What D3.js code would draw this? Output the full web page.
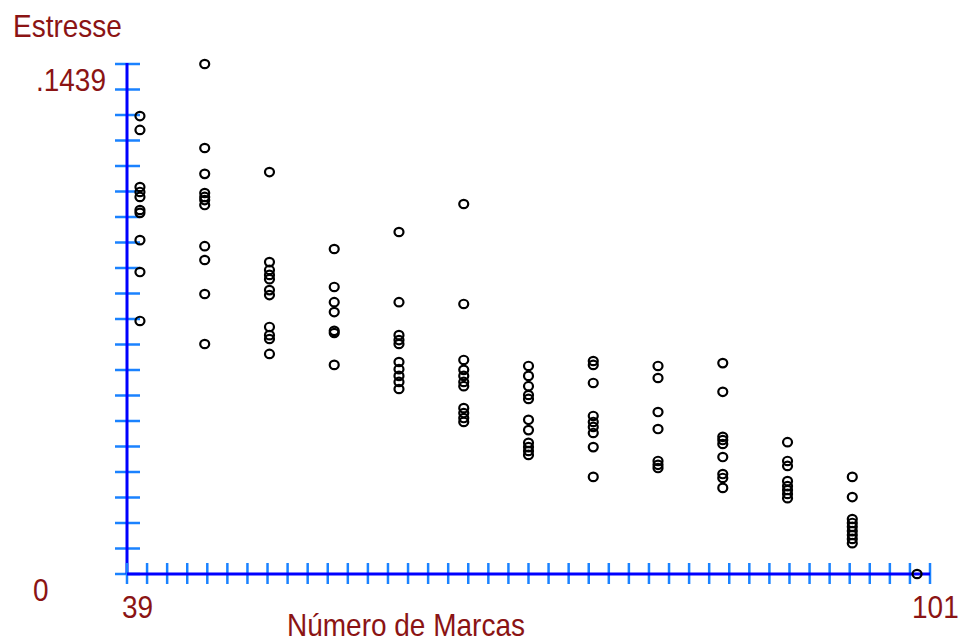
<!DOCTYPE html>
<html lang="pt">
<head>
    <meta charset="UTF-8">
    <title>Estresse x Número de Marcas</title>
    <script src="https://d3js.org/d3.v7.min.js"></script>
    <style>
        body {
            margin: 0;
            background: #fff;
        }
        svg text {
            font-family: "Liberation Sans", Arial, sans-serif;
            font-size: 28px;
            fill: #8b1414;
        }
    </style>
</head>
<body>
    <div id="chart"></div>

    <script>
        // number of marks (x) and the stress values
        const marcas = [40, 45, 50, 55, 60, 65, 70, 75, 80, 85, 90, 95, 100];
        const estresse = [
            [.1292, .1253, .1092, .1078, .1064, .1027, .1019, .0942, .0852, .0714],
            [.1439, .1202, .1129, .1075, .1064, .1055, .1041, .0925, .0886, .0790, .0649],
            [.1134, .0880, .0858, .0844, .0832, .0801, .0787, .0697, .0674, .0663, .0621],
            [.0917, .0810, .0767, .0739, .0686, .0680, .0590],
            [.0965, .0767, .0674, .0660, .0649, .0598, .0578, .0559, .0542, .0522],
            [.1044, .0762, .0604, .0576, .0559, .0542, .0530, .0468, .0454, .0440, .0429],
            [.0587, .0559, .0530, .0505, .0494, .0435, .0406, .0370, .0358, .0347, .0336],
            [.0601, .0590, .0539, .0446, .0429, .0415, .0398, .0358, .0274],
            [.0587, .0553, .0457, .0409, .0319, .0308, .0299],
            [.0595, .0514, .0387, .0378, .0367, .0330, .0282, .0271, .0243],
            [.0372, .0319, .0305, .0262, .0248, .0237, .0226, .0214],
            [.0274, .0217, .0155, .0144, .0133, .0121, .0110, .0099, .0087],
            [0]
        ];
        const xMin = 39, xMax = 101;
        const yMax = .1439;
        const xTickCount = 40, yTickCount = 20;

        const width = 961, height = 643;
        const margin = { left: 127, right: 930, top: 64, bottom: 574 };

        const x = d3.scaleLinear().domain([xMin, xMax]).range([margin.left, margin.right]);
        const y = d3.scaleLinear().domain([0, yMax]).range([margin.bottom, margin.top]);

        const points = marcas.flatMap((m, i) => estresse[i].map(v => ({ m, v })));

        const svg = d3.select("#chart").append("svg")
            .attr("width", width).attr("height", height);

        // y axis
        svg.append("g").selectAll("line")
            .data(d3.range(yTickCount + 1).map(i => yMax * i / yTickCount))
            .join("line")
            .attr("x1", margin.left - 12).attr("x2", margin.left + 13)
            .attr("y1", d => y(d)).attr("y2", d => y(d))
            .attr("stroke", "#1a82ff").attr("stroke-width", 2.5);
        svg.append("line")
            .attr("x1", margin.left).attr("x2", margin.left)
            .attr("y1", y(yMax) - 1).attr("y2", y(0))
            .attr("stroke", "#0000ff").attr("stroke-width", 3);

        // x axis
        svg.append("g").selectAll("line")
            .data(d3.range(xTickCount + 1).map(i => xMin + (xMax - xMin) * i / xTickCount))
            .join("line")
            .attr("x1", d => x(d)).attr("x2", d => x(d))
            .attr("y1", margin.bottom - 11).attr("y2", margin.bottom + 10)
            .attr("stroke", "#1a82ff").attr("stroke-width", 2.5);
        svg.append("line")
            .attr("x1", x(xMin)).attr("x2", x(xMax))
            .attr("y1", margin.bottom).attr("y2", margin.bottom)
            .attr("stroke", "#0000ff").attr("stroke-width", 3);

        // points
        svg.append("g").selectAll("ellipse")
            .data(points)
            .join("ellipse")
            .attr("cx", d => x(d.m))
            .attr("cy", d => y(d.v))
            .attr("rx", 4.5)
            .attr("ry", 4.2)
            .attr("fill", "none")
            .attr("stroke", "#000")
            .attr("stroke-width", 2.2);

        // labels (tall narrow bitmap-like font)
        const label = (txt, tx, ty, anchor) => svg.append("text")
            .attr("transform", `translate(${tx},${ty}) scale(1,1.15)`)
            .attr("text-anchor", anchor || "start")
            .text(txt);

        label("Estresse", 13, 37);
        label(".1439", 106, 91, "end");
        label("0", 33, 601);
        label("39", 122, 618);
        label("101", 912, 618);
        label("Número de Marcas", 287, 636);
    </script>
</body>
</html>
